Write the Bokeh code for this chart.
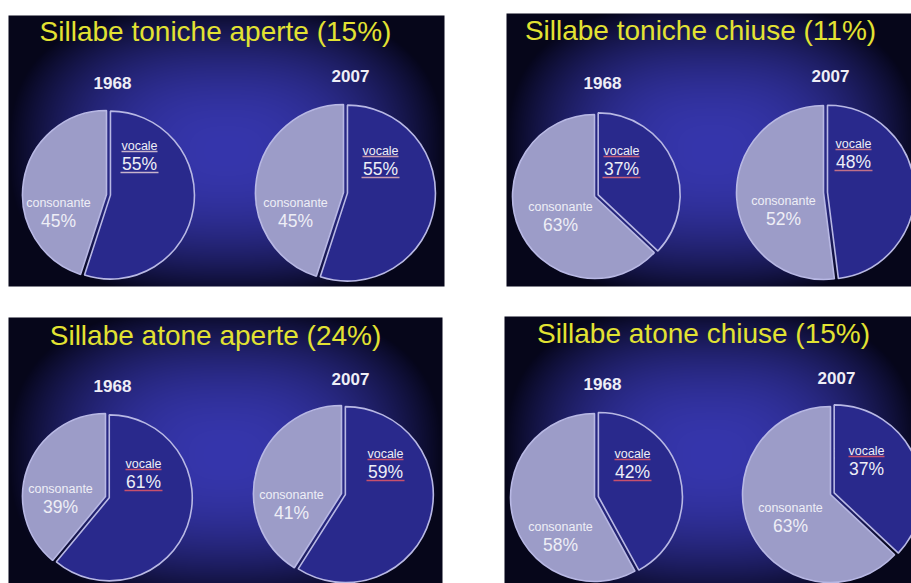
import numpy as np
from bokeh.plotting import figure
from bokeh.models import Range1d
from bokeh.core.properties import value
from bokeh.embed import file_html
from bokeh.resources import INLINE

W, H = 911, 583
FONT = value("Liberation Sans")

# ---- data -------------------------------------------------------------
titles = [
    "Sillabe toniche aperte (15%)",
    "Sillabe toniche chiuse (11%)",
    "Sillabe atone aperte (24%)",
    "Sillabe atone chiuse (15%)",
]
years = ["1968", "2007"]
slice_names = ["vocale", "consonante"]
vocale_1968 = [55, 37, 61, 42]
consonante_1968 = [45, 63, 39, 58]
vocale_2007 = [55, 48, 59, 37]
consonante_2007 = [45, 52, 41, 63]

# ---- layout (screen pixels, y down) ----------------------------------
panel_boxes = [(8, 15, 444, 286), (506, 13, 918, 286),
               (8, 317, 442, 592), (504, 316, 918, 592)]
title_pos = [(215, 31), (700, 30), (215, 335), (703, 333)]
year_pos = [[(112, 82), (350, 75)], [(602, 82), (830, 75)],
            [(112, 385), (350, 378)], [(602, 383), (836, 377)]]
pie_centres = [[(106, 194), (343, 192)], [(594, 196), (823, 192)],
               [(105, 496), (341, 493)], [(594, 497), (830, 494)]]
pie_radii = [[84, 88], [82, 87], [83, 88], [84, 88]]
vocale_label_pos = [[(139, 145), (380, 150)], [(621, 150), (853, 143)],
                    [(143, 463), (385, 453)], [(632, 453), (866, 450)]]
consonante_label_pos = [[(58, 202), (295, 202)], [(560, 206), (783, 200)],
                        [(60, 488), (291, 494)], [(560, 526), (790, 507)]]
# which vocale labels carry an underline: (name, percentage)
underlined = [[(True, True), (True, True)], [(True, True), (True, True)],
              [(True, True), (True, True)], [(True, True), (True, False)]]
underline_colours = [["#c8b4cc", "#c89aae"], ["#c8607a", "#c07088"],
                     ["#c8506c", "#c8506c"], ["#c8506c", "#c8506c"]]

EXPLODE = 4

# ---- styles -----------------------------------------------------------
VOCALE_FILL = "#29298c"
CONSONANTE_FILL = "#9c9cc8"
SLICE_LINE = "#b8b8e4"
TITLE_COLOUR = "#e2e232"
TEXT_COLOUR = "#eeeef6"
BG_CENTRE = np.array([54, 54, 172], dtype=float)
BG_EDGE = np.array([6, 6, 26], dtype=float)


def fy(y):
    """screen y (down) -> data y (up)"""
    return H - y


def background(x0, y0, x1, y1):
    w, h = x1 - x0, y1 - y0
    xs = (np.arange(w) + 0.5) / w * 2 - 1
    ys = (np.arange(h) + 0.5) / h * 2 - 1
    u, v = np.meshgrid(xs, ys)
    d = (np.abs(u * 1.0) ** 2.6 + np.abs(v * 0.92) ** 2.6) ** (1 / 2.6)
    t = np.clip(d, 0, 1) ** 2.2
    rgb = BG_CENTRE[None, None, :] * (1 - t[..., None]) + BG_EDGE[None, None, :] * t[..., None]
    rgb = np.clip(rgb, 0, 255).astype(np.uint32)
    img = (255 << 24) | (rgb[..., 2] << 16) | (rgb[..., 1] << 8) | rgb[..., 0]
    return img[::-1].astype(np.uint32)


p = figure(width=W, height=H, x_range=Range1d(0, W), y_range=Range1d(0, H),
           x_axis_type=None, y_axis_type=None, output_backend="svg",
           toolbar_location=None, min_border=0)
p.grid.visible = False
p.outline_line_color = None
p.background_fill_color = "white"
p.border_fill_color = "white"

vocale = [vocale_1968, vocale_2007]
consonante = [consonante_1968, consonante_2007]

for i, title in enumerate(titles):
    x0, y0, x1, y1 = panel_boxes[i]
    p.image_rgba(image=[background(x0, y0, x1, y1)], x=x0, y=fy(y1),
                 dw=x1 - x0, dh=y1 - y0)

    tx, ty = title_pos[i]
    p.text(x=[tx], y=[fy(ty)], text=[title], text_font=FONT,
           text_font_size="28px", text_color=TITLE_COLOUR,
           text_align="center", text_baseline="middle")

    for j, year in enumerate(years):
        v = vocale[j][i]
        c = consonante[j][i]
        cx, cy = pie_centres[i][j]
        r = pie_radii[i][j]
        top = np.pi / 2

        # consonante: anticlockwise from 12 o'clock
        p.wedge(x=[cx], y=[fy(cy)], radius=r, start_angle=top,
                end_angle=top + 2 * np.pi * c / 100, direction="anticlock",
                fill_color=CONSONANTE_FILL, line_color=SLICE_LINE, line_width=1.6)
        # vocale: clockwise from 12 o'clock, pulled slightly out
        mid = top - np.pi * v / 100
        ox, oy = EXPLODE * np.cos(mid), EXPLODE * np.sin(mid)
        p.wedge(x=[cx + ox], y=[fy(cy) + oy], radius=r,
                start_angle=top - 2 * np.pi * v / 100, end_angle=top,
                direction="anticlock", fill_color=VOCALE_FILL,
                line_color=SLICE_LINE, line_width=1.6)

        yx, yy = year_pos[i][j]
        p.text(x=[yx], y=[fy(yy)], text=[year], text_font=FONT,
               text_font_size="17px", text_font_style="bold",
               text_color=TEXT_COLOUR, text_align="center", text_baseline="middle")

        vx, vy = vocale_label_pos[i][j]
        p.text(x=[vx], y=[fy(vy)], text=[slice_names[0]], text_font=FONT,
               text_font_size="12.5px", text_color=TEXT_COLOUR,
               text_align="center", text_baseline="middle")
        p.text(x=[vx], y=[fy(vy + 18)], text=[f"{v}%"], text_font=FONT,
               text_font_size="17.5px", text_color=TEXT_COLOUR,
               text_align="center", text_baseline="middle")
        u_name, u_pct = underlined[i][j]
        ucol = underline_colours[i][j]
        if u_name:
            p.segment(x0=[vx - 18], y0=[fy(vy + 6)], x1=[vx + 18], y1=[fy(vy + 6)],
                      line_color=ucol, line_width=1.3)
        if u_pct:
            p.segment(x0=[vx - 19], y0=[fy(vy + 27)], x1=[vx + 19], y1=[fy(vy + 27)],
                      line_color=ucol, line_width=1.3)

        kx, ky = consonante_label_pos[i][j]
        p.text(x=[kx], y=[fy(ky)], text=[slice_names[1]], text_font=FONT,
               text_font_size="12.5px", text_color=TEXT_COLOUR,
               text_align="center", text_baseline="middle")
        p.text(x=[kx], y=[fy(ky + 18)], text=[f"{c}%"], text_font=FONT,
               text_font_size="17.5px", text_color=TEXT_COLOUR,
               text_align="center", text_baseline="middle")

with open("out.html", "w") as f:
    f.write(file_html(p, INLINE))
